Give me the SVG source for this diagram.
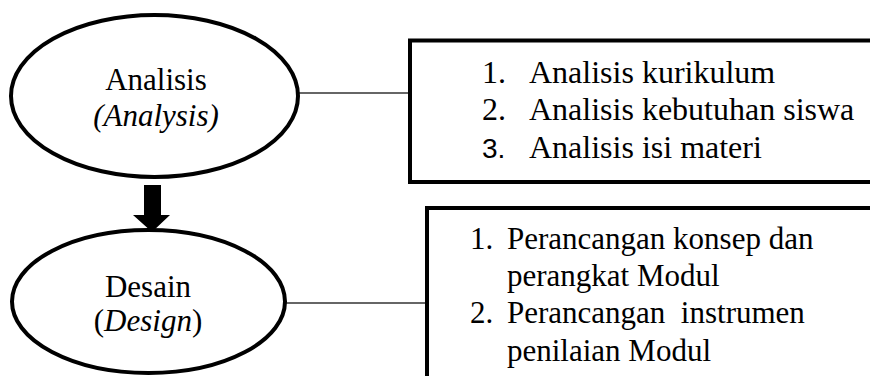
<svg xmlns="http://www.w3.org/2000/svg" width="870" height="376" viewBox="0 0 870 376">
  <defs>
    <style>
      .shape { fill: #ffffff; stroke: #000000; stroke-width: 4; }
      .frame { fill: none; stroke: #000000; stroke-width: 4; }
      .link { stroke: #333333; stroke-width: 1.5; fill: none; }
      .node { font-size: 31px; text-anchor: middle; }
      .item { font-size: 32px; white-space: pre; }
      .item2 { font-size: 31px; white-space: pre; }
      .num3 { font-size: 28px; }
      .it { font-style: italic; }
    </style>
  </defs>

  <!-- connectors between the stages and their detail boxes -->
  <g id="connectors">
    <line class="link" x1="298" y1="93" x2="410" y2="93"/>
    <line class="link" x1="285" y1="303" x2="427" y2="303"/>
    <!-- block arrow from Analisis down to Desain -->
    <polygon fill="#000000" points="144,185 161,185 161,215 170,215 152,232 133,215 144,215"/>
  </g>

  <!-- stage: analysis -->
  <g id="node-analisis" font-family="Liberation Serif, Times New Roman, serif">
    <ellipse class="shape" cx="154.5" cy="96" rx="143.5" ry="81"/>
    <text class="node" x="156" y="90">Analisis</text>
    <text class="node it" x="156" y="126">(Analysis)</text>
  </g>

  <!-- analysis steps; the box runs on past the right edge -->
  <g id="box-analisis" font-family="Liberation Serif, Times New Roman, serif">
    <path class="frame" d="M 872 40.5 H 410 V 182 H 872"/>
    <text class="item" x="482" y="83">1.</text>
    <text class="item" x="529" y="83">Analisis kurikulum</text>
    <text class="item" x="482" y="120">2.</text>
    <text class="item" x="529" y="120">Analisis kebutuhan siswa</text>
    <text class="num3" x="482" y="158" font-family="Liberation Sans, Arial, sans-serif">3.</text>
    <text class="item" x="529" y="158">Analisis isi materi</text>
  </g>

  <!-- stage: design -->
  <g id="node-desain" font-family="Liberation Serif, Times New Roman, serif">
    <ellipse class="shape" cx="148.5" cy="301.5" rx="136.5" ry="71.5"/>
    <text class="node" x="148" y="297">Desain</text>
    <text class="node" x="148" y="331">(<tspan class="it">Design</tspan>)</text>
  </g>

  <!-- design steps; the box runs on past the right and bottom edges -->
  <g id="box-desain" font-family="Liberation Serif, Times New Roman, serif">
    <path class="frame" d="M 872 208 H 427 V 380"/>
    <text class="item2" x="470" y="249">1.</text>
    <text class="item2" x="507" y="249">Perancangan konsep dan</text>
    <text class="item2" x="507" y="286">perangkat Modul</text>
    <text class="item2" x="470" y="323">2.</text>
    <text class="item2" x="507" y="323">Perancangan  instrumen</text>
    <text class="item2" x="507" y="361">penilaian Modul</text>
  </g>
</svg>
